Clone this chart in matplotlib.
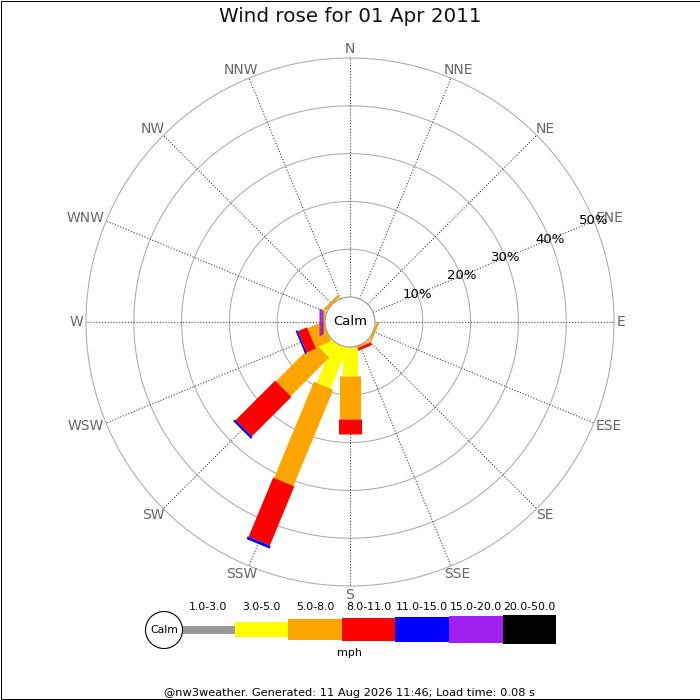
import numpy as np
import matplotlib
matplotlib.use('Agg')
import matplotlib.pyplot as plt
from matplotlib.patches import Circle, Rectangle

# ---------------- data ----------------
directions = ['N', 'NNE', 'NE', 'ENE', 'E', 'ESE', 'SE', 'SSE',
              'S', 'SSW', 'SW', 'WSW', 'W', 'WNW', 'NW', 'NNW']
speed_bins = ['1.0-3.0', '3.0-5.0', '5.0-8.0', '8.0-11.0',
              '11.0-15.0', '15.0-20.0', '20.0-50.0']
bin_colors = ['#999999', '#ffff00', '#ffa500', '#ff0000',
              '#0000ff', '#a020f0', '#000000']
# percentage of time per direction for each speed bin (mph)
freq_1_3   = [0, 0, 0, 0, 0, 0,   0, 0,   0,   0,    0,    0,   0,    0, 0,   0]
freq_3_5   = [0, 0, 0, 0, 0, 0,   0, 0,   6.0, 9.2,  3.1,  0,   0,    0, 0,   0]
freq_5_8   = [0, 0, 0, 0, 0, 0.5, 0, 0.4, 9.0, 21.8, 11.4, 3.5, 0.45, 0, 0.6, 0]
freq_8_11  = [0, 0, 0, 0, 0, 0,   0, 0.6, 3.1, 13.4, 11.7, 2.1, 0.2,  0, 0,   0]
freq_11_15 = [0, 0, 0, 0, 0, 0,   0, 0,   0,   0.6,  0.5,  0.4, 0.25, 0, 0,   0]
freq_15_20 = [0, 0, 0, 0, 0, 0,   0, 0,   0,   0,    0,    0,   0.3,  0, 0,   0]
freq_20_50 = [0, 0, 0, 0, 0, 0,   0, 0,   0,   0,    0,    0,   0,    0, 0,   0]
ring_pcts = [10, 20, 30, 40, 50]
title_text = 'Wind rose for 01 Apr 2011'
unit_text = 'mph'
footer_text = '@nw3weather. Generated: 11 Aug 2026 11:46; Load time: 0.08 s'

freqs = [freq_1_3, freq_3_5, freq_5_8, freq_8_11, freq_11_15, freq_15_20, freq_20_50]

# ---------------- style / layout ----------------
DPI = 100
PX = 72.0 / DPI                      # points per pixel
bar_px = [8, 15, 21, 23, 25, 27, 29]  # bar thickness per speed bin (px)
px_per_pct = 4.78
calm_px = 25.0
offset = calm_px / px_per_pct        # radial offset (data units) for calm circle
rmax = max(ring_pcts) + offset
outer_px = rmax * px_per_pct
cx, cy = 350.0, 322.0                # rose centre in pixels (from top)

fig = plt.figure(figsize=(7, 7), dpi=DPI)
fig.patch.set_facecolor('white')

# full-figure pixel axes for title, legend, footer
ax2 = fig.add_axes([0, 0, 1, 1])
ax2.set_xlim(0, 700)
ax2.set_ylim(700, 0)
ax2.axis('off')

# polar axes for the rose
W = H = 700.0
ax = fig.add_axes([(cx - outer_px) / W, (H - cy - outer_px) / H,
                   2 * outer_px / W, 2 * outer_px / H], projection='polar')
ax.set_theta_zero_location('N')
ax.set_theta_direction(-1)
ax.axis('off')

thetas = np.deg2rad(np.arange(len(directions)) * 360.0 / len(directions))

# rings
tt = np.linspace(0, 2 * np.pi, 600)
for p in ring_pcts:
    ax.plot(tt, np.full_like(tt, p + offset), color='#aaaaaa', lw=0.75,
            zorder=1, clip_on=False)

# spokes
for th in thetas:
    ax.plot([th, th], [offset, rmax], color='#444444', lw=0.8,
            linestyle=(0, (1, 1.6)), zorder=1.5, clip_on=False)

# direction labels (just outside the outer ring, box pushed outward)
lab_r = 266.0 / px_per_pct
dir_texts = []
for th, name in zip(thetas, directions):
    t = ax.annotate(name, xy=(th, lab_r), xytext=(0, 0), textcoords='offset points',
                    ha='center', va='center', fontsize=10, color='#666666',
                    annotation_clip=False, zorder=5)
    dir_texts.append((t, th))

# bars
for i, th in enumerate(thetas):
    base = offset
    for b in range(len(speed_bins)):
        v = freqs[b][i]
        if v <= 0:
            continue
        ax.plot([th, th], [base, base + v], color=bin_colors[b],
                lw=bar_px[b] * PX, solid_capstyle='butt', zorder=3)
        base += v

# percent labels (along ENE)
lab_th = np.deg2rad(67.5)
for p in ring_pcts:
    ax.text(lab_th, p + offset, f'{p}%', ha='center', va='center',
            fontsize=9.5, color='black', zorder=6)

# calm circle
ax.add_patch(Circle((0.5, 0.5), 0.5 * offset / rmax, transform=ax.transAxes,
                    facecolor='white', edgecolor='#999999', lw=0.8, zorder=4))
ax.text(0.5, 0.5, 'Calm', transform=ax.transAxes, ha='center', va='center',
        fontsize=9.5, color='black', zorder=7)
ax.set_ylim(0, rmax)

# ---------------- title ----------------
ax2.text(350, 17, title_text, ha='center', va='center', fontsize=14.3, color='#111111')

# ---------------- legend ----------------
leg_cy = 629.5
leg_x0 = 181.0
leg_w = 53.6
calm_c = (164.0, 630.0)
for b, lab in enumerate(speed_bins):
    xc = leg_x0 + (b + 0.5) * leg_w
    h = bar_px[b]
    ax2.bar(xc, h, bottom=leg_cy - h / 2, width=leg_w, color=bin_colors[b],
            edgecolor='none', zorder=2)
    ax2.text(xc, 607, lab, ha='center', va='center', fontsize=7.8, color='black')
ax2.add_patch(Circle(calm_c, 18.5, facecolor='white', edgecolor='black', lw=0.8, zorder=3))
ax2.text(calm_c[0], calm_c[1], 'Calm', ha='center', va='center', fontsize=7.8, zorder=4)
ax2.text(350, 653, unit_text, ha='center', va='center', fontsize=8, color='black')

# ---------------- footer & border ----------------
ax2.text(350, 693, footer_text, ha='center', va='center', fontsize=8.2, color='black')
ax2.add_patch(Rectangle((0.5, 0.5), 699, 698, facecolor='none', edgecolor='black',
                        lw=1.0 * PX, zorder=10))

# push direction labels outward according to their box size
fig.canvas.draw()
for t, th in dir_texts:
    bb = t.get_window_extent()
    dx = 1.1 * (bb.width / 2.0) * np.sin(th)
    dy = (bb.height / 2.0) * np.cos(th)
    t.xyann = (dx * PX, dy * PX)

fig.savefig('out.png', dpi=DPI, facecolor='white')
